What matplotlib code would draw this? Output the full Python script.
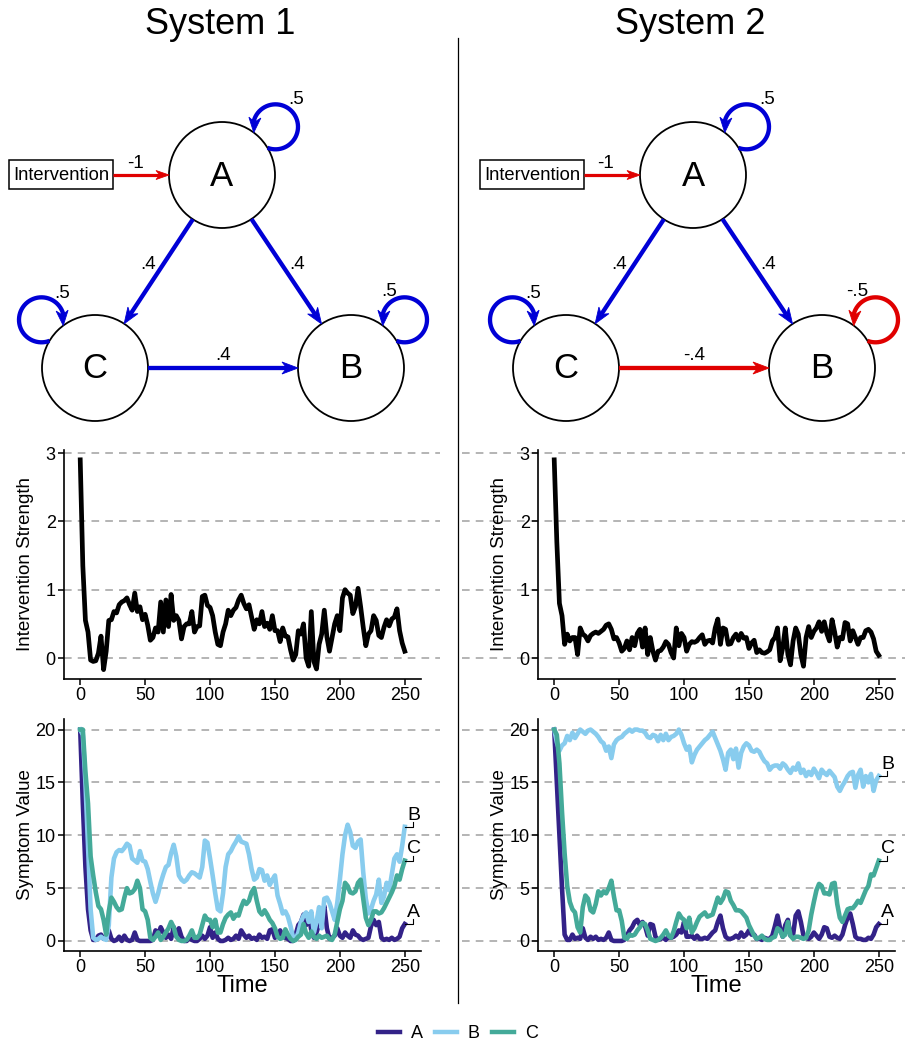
import numpy as np
import matplotlib
matplotlib.use("Agg")
import matplotlib.pyplot as plt
from matplotlib.patches import Circle, Rectangle, Polygon
from matplotlib.lines import Line2D
from matplotlib.transforms import blended_transform_factory

plt.rcParams['font.family'] = ['Liberation Sans', 'DejaVu Sans']

# ---------------- data (every 2nd time step) ----------------
time = np.arange(0, 251, 2)

# System 1
intervention_1 = [
    2.9, 1.35, 0.55, 0.38, -0.03, -0.05, -0.04, 0.07, 0.32, -0.17,
    0.1, 0.55, 0.56, 0.68, 0.66, 0.78, 0.82, 0.84, 0.88, 0.78,
    0.70, 0.95, 0.68, 0.75, 0.56, 0.64, 0.48, 0.26, 0.30, 0.44,
    0.38, 0.82, 0.38, 0.85, 0.46, 0.93, 0.55, 0.62, 0.55, 0.28,
    0.46, 0.50, 0.50, 0.68, 0.38, 0.46, 0.47, 0.90, 0.92, 0.77,
    0.74, 0.62, 0.38, 0.20, 0.18, 0.38, 0.50, 0.70, 0.62, 0.70,
    0.74, 0.85, 0.92, 0.80, 0.72, 0.78, 0.60, 0.42, 0.56, 0.50,
    0.68, 0.46, 0.51, 0.42, 0.62, 0.40, 0.40, 0.24, 0.44, 0.32,
    0.31, 0.12, -0.03, 0.05, 0.40, 0.35, 0.50, 0.00, -0.12, 0.68,
    -0.05, -0.16, 0.20, 0.35, 0.70, 0.31, 0.10, 0.30, 0.50, 0.62,
    0.40, 0.88, 1.0, 0.95, 0.92, 0.65, 0.75, 1.02, 0.75, 0.45,
    0.18, 0.35, 0.40, 0.62, 0.55, 0.33, 0.30, 0.45, 0.56, 0.47,
    0.57, 0.60, 0.72, 0.40, 0.22, 0.10]

sym_a_1 = [
    20, 13, 7, 3, 1, 0.1, 0.1, 0.5, 0.6, 0.2,
    0.3, 1.0, 0.2, 0, 0.1, 0.4, 0, 0.5, 0.1, 0,
    0.1, 0.8, 0.1, 0, 0, 0, 0, 0, 0.1, 1.0,
    0.6, 1.3, 0.8, 0.3, 0.6, 0.2, 1.3, 0.5, 1.2, 0.4,
    0, 0, 0.3, 0.1, 0, 0, 0.2, 0.5, 0.2, 0.5,
    1.3, 0.3, 0.8, 0.2, 0, 0, 0.1, 0.3, 0.1, 0.2,
    0.5, 0.2, 1.0, 0.6, 0.3, 0.5, 0.2, 0.3, 0.1, 0.6,
    0.3, 0.4, 0.2, 1.0, 1.1, 0.3, 0.5, 1.0, 0.5, 0.3,
    0.2, 0, 0, 0.6, 1.5, 1.8, 2.5, 1.5, 2.5, 1.0,
    0.3, 0.8, 1.6, 2.6, 3.3, 1.2, 0.2, 0.3, 0.5, 1.2,
    0.5, 0.3, 0.8, 0.5, 0.3, 1.0, 0.6, 0.5, 0.2, 0.1,
    0.2, 0.3, 1.4, 2.0, 1.5, 1.8, 0.3, 0.1, 0.2, 0.1,
    0.3, 0.1, 0.2, 0.4, 1.2, 1.6]

sym_b_1 = [
    20, 19.5, 15, 9, 3, 0.3, 0.1, 0.2, 0.4, 0.2,
    0.1, 1.5, 6, 7.8, 8.4, 8.6, 8.5, 8.8, 9.2, 9.0,
    7.8, 7.6, 7.4, 8.5, 7.6, 7.5, 6.8, 5.6, 4.5, 3.7,
    4.5, 5.5, 6.3, 7.0, 7.2, 8.3, 9.1, 8.0, 6.2, 5.8,
    5.6, 5.8, 6.2, 6.5, 6.4, 6.2, 6.0, 7.0, 9.5, 9.3,
    7.8, 6.2, 4.5, 3.0, 2.8, 4.5, 7.0, 8.2, 8.5, 9.0,
    9.4, 9.9, 9.4, 9.3, 9.2, 8.2, 6.8, 5.8, 6.0, 6.8,
    6.7, 5.7, 6.2, 5.3, 5.8, 6.2, 4.3, 3.5, 2.6, 2.8,
    2.3, 1.4, 0.3, 0.2, 0.8, 1.8, 2.4, 2.7, 1.8, 2.8,
    0.8, 1.8, 3.2, 1.2, 4.0, 4.1, 3.6, 2.8, 2.0, 3.6,
    5.8, 8.2, 10.0, 11.0, 10.3, 9.0, 8.8, 9.4, 9.6, 6.5,
    4.0, 2.6, 3.0, 3.8, 4.4, 5.8, 3.6, 4.2, 5.5, 4.8,
    6.3, 7.8, 8.2, 7.5, 9.0, 10.8]

sym_c_1 = [
    20, 20, 16, 13, 8, 6.2, 4.6, 3.3, 3.0, 2.0,
    0.6, 2.8, 4.1, 3.7, 3.2, 2.9, 3.0, 4.1, 5.0, 4.5,
    4.6, 4.9, 5.7, 5.0, 3.0, 2.8, 2.0, 0.3, 0.1, 0.4,
    0.8, 0.1, 0.4, 0.8, 1.2, 1.8, 1.3, 0.4, 0.1, 0,
    0, 0.1, 0.5, 1.0, 0.3, 0.3, 0.6, 1.5, 2.4, 2.0,
    2.0, 1.3, 2.0, 0.8, 0.8, 1.6, 2.2, 2.5, 2.7, 2.1,
    2.5, 2.4, 3.2, 3.8, 3.5, 3.8, 4.6, 5.0, 3.8, 2.8,
    2.5, 2.9, 2.5, 2.0, 1.7, 1.2, 0.4, 0.2, 0.3, 1.1,
    0.6, 0.2, 0, 0.1, 0.4, 0.6, 1.6, 0.7, 0.3, 0.9,
    0.4, 0.2, 0.5, 0.3, 0.4, 0.5, 0.2, 0.1, 0.6, 1.8,
    3.0, 3.8, 5.5, 5.2, 4.6, 4.5, 4.7, 5.5, 5.8, 4.0,
    2.2, 1.5, 2.0, 2.8, 2.8, 2.6, 2.7, 3.1, 3.6, 4.1,
    4.6, 5.2, 6.2, 5.8, 6.8, 7.6]

# System 2
intervention_2 = [
    2.9, 1.7, 0.8, 0.62, 0.2, 0.35, 0.25, 0.3, 0.3, 0.05,
    0.44, 0.35, 0.32, 0.25, 0.33, 0.36, 0.38, 0.36, 0.39, 0.42,
    0.48, 0.50, 0.42, 0.28, 0.30, 0.22, 0.10, 0.14, 0.25, 0.12,
    0.30, 0.18, 0.36, 0.42, 0.16, 0.44, 0.05, 0.30, 0.10, -0.03,
    0.10, 0.11, 0.16, 0.24, 0.20, 0.08, 0.0, 0.44, 0.18, 0.36,
    0.30, 0.10, 0.20, 0.24, 0.23, 0.25, 0.30, 0.34, 0.20, 0.25,
    0.26, 0.22, 0.44, 0.57, 0.20, 0.44, 0.42, 0.20, 0.21, 0.30,
    0.35, 0.26, 0.36, 0.29, 0.30, 0.14, 0.22, 0.26, 0.08, 0.12,
    0.08, 0.07, 0.09, 0.12, 0.25, 0.30, 0.44, -0.04, 0.15, 0.44,
    0.05, -0.10, 0.25, 0.44, 0.35, 0.05, -0.12, 0.30, 0.46, 0.30,
    0.39, 0.44, 0.53, 0.39, 0.53, 0.36, 0.25, 0.56, 0.38, 0.16,
    0.30, 0.28, 0.52, 0.50, 0.25, 0.40, 0.30, 0.20, 0.30, 0.30,
    0.40, 0.42, 0.38, 0.28, 0.10, 0.04]

sym_a_2 = [
    20, 15, 10, 5, 0.6, 0.1, 0.1, 0.6, 0.2, 0.3,
    0.2, 1.2, 0.3, 0.1, 0.4, 0.2, 0.4, 0.1, 0.2, 0.1,
    0.3, 0.8, 0.1, 0, 0, 0, 0, 0.1, 0.5, 1.0,
    1.3, 1.8, 2.0, 1.5, 1.8, 1.4, 0.5, 1.6, 1.5, 0.4,
    0.1, 0.2, 0.3, 0.1, 0.4, 0.3, 0.4, 0.6, 1.0, 0.8,
    1.8, 0.4, 0.4, 0.5, 0.2, 0.5, 0.2, 0.2, 0.3, 0.2,
    0.5, 0.8, 1.0, 1.8, 2.4, 1.2, 0.4, 0.2, 0.2, 0.3,
    0.5, 0.3, 0.8, 0.4, 0.6, 1.0, 0.6, 0.6, 0.2, 0.2,
    0.1, 0.3, 0.2, 0.2, 0.5, 1.4, 2.4, 1.2, 0.4, 1.5,
    2.0, 0.5, 0.6, 2.4, 2.8, 1.8, 0.5, 0.3, 0.2, 0.4,
    0.8, 0.5, 0.2, 0.6, 1.3, 1.2, 0.4, 0.3, 0.5, 0.3,
    0.2, 0.6, 1.5, 2.2, 2.6, 1.6, 0.4, 0.2, 0.2, 0.1,
    0.1, 0.3, 0.2, 0.6, 1.3, 1.6]

sym_b_2 = [
    20, 18.8, 18.0, 18.5, 18.7, 19.4, 19.0, 19.7, 19.2, 19.6,
    20.0, 19.8, 19.6, 19.9, 20.0, 19.8, 19.6, 19.3, 18.9, 18.7,
    18.0, 18.4, 17.3, 18.6, 19.0, 19.2, 19.3, 19.6, 19.8, 20.0,
    19.8, 20.0, 20.0, 19.9, 19.9, 19.7, 19.3, 19.2, 19.5, 19.4,
    18.9, 19.5, 19.0, 19.6, 19.0, 19.3, 19.4, 19.6, 20.0, 19.5,
    18.7, 18.1, 18.4, 16.9, 17.6, 18.1, 18.4, 18.7, 19.0, 19.2,
    19.5, 19.8, 19.2, 18.6, 18.0, 17.2, 16.2, 17.8, 18.1, 17.2,
    18.2, 16.4, 17.8, 18.4, 18.7, 18.5, 18.0, 17.9, 18.1, 17.9,
    17.4, 17.0, 16.8, 16.2, 16.5, 16.6, 16.6, 16.3, 16.8, 16.6,
    16.2, 15.9, 16.4, 16.2, 16.8, 15.9, 16.2, 15.6, 16.0, 15.7,
    16.3, 15.9, 15.4, 16.2, 15.9, 15.7, 16.1, 15.8, 15.5, 14.6,
    14.2, 14.7, 15.1, 15.6, 15.9, 16.0, 14.5, 15.7, 16.2, 14.6,
    15.6, 15.0, 15.8, 14.2, 15.2, 15.6]

sym_c_2 = [
    20, 19.5, 16.8, 12.2, 8.3, 5.2, 3.7, 3.0, 2.7, 1.3,
    0.8, 3.2, 4.3, 4.0, 2.9, 2.7, 3.5, 4.7, 4.3, 4.7,
    4.5, 5.0, 5.7, 4.2, 2.9, 2.9, 1.9, 0.3, 0.2, 0.6,
    0.5, 0.6, 1.0, 1.3, 1.7, 1.6, 1.0, 0.2, 0.1, 0,
    0.1, 0.3, 0.6, 1.0, 0.5, 0.3, 0.9, 1.8, 2.6, 2.2,
    2.0, 1.2, 2.2, 0.8, 1.2, 1.8, 2.3, 2.5, 2.7, 2.3,
    2.4, 2.5, 3.3, 4.1, 3.6, 4.0, 4.7, 4.6, 3.8, 3.4,
    2.9, 2.9, 2.8, 2.5, 2.2, 1.5, 1.0, 0.5, 0.2, 0.3,
    0.5, 0.2, 0.1, 0.1, 0.3, 0.4, 1.2, 1.0, 0.4, 0.6,
    1.8, 0.5, 0.2, 0.4, 0.4, 0.3, 0.2, 0.3, 1.0, 2.5,
    3.7, 4.8, 5.4, 5.2, 4.5, 4.5, 4.4, 5.4, 5.5, 3.5,
    2.2, 1.8, 2.4, 3.0, 3.1, 3.1, 3.4, 3.8, 3.6, 4.2,
    4.8, 5.2, 6.3, 6.2, 6.9, 7.6]

symptom_names = ["A", "B", "C"]
symptom_colors = ["#332288", "#88CCEE", "#44AA99"]

# network weights: edges (source, target, weight) and self loops
edges_1 = [("A", "C", 0.4), ("A", "B", 0.4), ("C", "B", 0.4)]
loops_1 = {"A": 0.5, "B": 0.5, "C": 0.5}
edges_2 = [("A", "C", 0.4), ("A", "B", 0.4), ("C", "B", -0.4)]
loops_2 = {"A": 0.5, "B": -0.5, "C": 0.5}
intervention_weight = -1

# ---------------- layout (pixels) ----------------
W, H = 915, 1050
NODE_R = 53
NODE_OFF = {"A": (0, 0), "C": (-127, 193), "B": (129, 193)}
LOOP_ANGLE = {"A": 42, "B": 42, "C": 138}
LOOP_TURN = {"A": 1, "B": 1, "C": -1}
LOOP_LABEL = {"A": (82, -75), "B": (46, -77), "C": (-25, -75)}
LOOP_DIST, LOOP_R = 72, 22.5
POS_COL, NEG_COL = "#0000D6", "#E00000"

fig = plt.figure(figsize=(W / 100, H / 100), dpi=100)
bg = fig.add_axes([0, 0, 1, 1])
bg.set_xlim(0, W)
bg.set_ylim(H, 0)
bg.axis("off")


def fmt_weight(w):
    return f"{w:g}".replace("0.", ".")


def draw_head(ax, tip, u, color, length, width):
    n = np.array([-u[1], u[0]])
    back = tip - u * length
    pts = [tip, back + n * width / 2, tip - u * length * 0.7, back - n * width / 2]
    ax.add_patch(Polygon(pts, closed=True, facecolor=color, edgecolor=color,
                         lw=0.6, zorder=3))


def straight_arrow(ax, p0, p1, color, lw, length, width):
    p0 = np.asarray(p0, float)
    p1 = np.asarray(p1, float)
    u = (p1 - p0) / np.hypot(*(p1 - p0))
    stop = p1 - u * length * 0.7
    ax.plot([p0[0], stop[0]], [p0[1], stop[1]], color=color, lw=lw,
            solid_capstyle="butt", zorder=2)
    draw_head(ax, p1, u, color, length, width)
    return u


def self_loop(ax, center, angle, turn, color, length=15, width=12):
    back = angle + 180
    alpha = np.degrees(np.arccos((LOOP_DIST ** 2 + LOOP_R ** 2 - NODE_R ** 2)
                                 / (2 * LOOP_DIST * LOOP_R)))
    lc = center + LOOP_DIST * np.array([np.cos(np.radians(angle)),
                                        -np.sin(np.radians(angle))])
    if turn > 0:
        phi0, phi1 = back + alpha, back - alpha + 360
    else:
        phi0, phi1 = back - alpha, back + alpha - 360
    trim = np.degrees(length * 0.7 / LOOP_R)
    phi = np.radians(np.linspace(phi0, phi1 - turn * trim, 200))
    ax.plot(lc[0] + LOOP_R * np.cos(phi), lc[1] - LOOP_R * np.sin(phi),
            color=color, lw=3.1, solid_capstyle="butt", zorder=2)
    pe = np.radians(phi1)
    pb = np.radians(phi1 - turn * np.degrees(length / LOOP_R))
    end = lc + LOOP_R * np.array([np.cos(pe), -np.sin(pe)])
    start = lc + LOOP_R * np.array([np.cos(pb), -np.sin(pb)])
    u = (end - start) / np.hypot(*(end - start))
    draw_head(ax, end, u, color, length, width)


def draw_network(ax, a_center, edges, loops):
    a_center = np.array(a_center, float)
    pos = {k: a_center + np.array(v, float) for k, v in NODE_OFF.items()}
    for name, p in pos.items():
        ax.add_patch(Circle(p, NODE_R, facecolor="white", edgecolor="black",
                            lw=1.3, zorder=1))
        ax.text(p[0], p[1] + 1, name, fontsize=25, ha="center", va="center", zorder=4)
    for src, dst, w in edges:
        color = POS_COL if w > 0 else NEG_COL
        d = pos[dst] - pos[src]
        u = d / np.hypot(*d)
        p0 = pos[src] + u * NODE_R
        p1 = pos[dst] - u * NODE_R
        straight_arrow(ax, p0, p1, color, 3.1, 16, 12)
        perp = np.array([u[1], -u[0]])
        if perp[1] > 0 or (perp[1] == 0 and perp[0] < 0):
            perp = -perp
        mid = (p0 + p1) / 2 + perp * 13
        ax.text(mid[0], mid[1], fmt_weight(w), fontsize=13.5, ha="center", va="center")
    for name, w in loops.items():
        color = POS_COL if w > 0 else NEG_COL
        self_loop(ax, pos[name], LOOP_ANGLE[name], LOOP_TURN[name], color)
        dx, dy = LOOP_LABEL[name]
        ax.text(pos[name][0] + dx, pos[name][1] + dy, fmt_weight(w), fontsize=13.5,
                ha="right", va="center")
    # intervention box
    a = pos["A"]
    ax.add_patch(Rectangle((a[0] - 213, a[1] - 15), 104, 29, facecolor="white",
                           edgecolor="black", lw=1.1, zorder=1))
    ax.text(a[0] - 161, a[1], "Intervention", fontsize=13.2, ha="center", va="center")
    color = POS_COL if intervention_weight > 0 else NEG_COL
    p0 = a + np.array([-109, 0])
    p1 = a + np.array([-NODE_R, 0])
    straight_arrow(ax, p0, p1, color, 2.3, 13, 9)
    ax.text((p0[0] + p1[0]) / 2 - 6, a[1] - 12, fmt_weight(intervention_weight),
            fontsize=13.5, ha="center", va="center")


draw_network(bg, (222, 175), edges_1, loops_1)
draw_network(bg, (693, 175), edges_2, loops_2)

bg.text(220, 24, "System 1", fontsize=26, ha="center", va="center")
bg.text(690, 24, "System 2", fontsize=26, ha="center", va="center")
bg.plot([458, 458], [38, 1003], color="black", lw=0.9)


# ---------------- time series panels ----------------
def fig_rect(left, top, right, bottom):
    return [left / W, 1 - bottom / H, (right - left) / W, (bottom - top) / H]


def style_axes(ax, ylim, yticks, grid_x, ylabel):
    ax.set_xlim(-12.5, 262.5)
    ax.set_ylim(*ylim)
    ax.set_xticks([0, 50, 100, 150, 200, 250])
    ax.set_yticks(yticks)
    for s in ("top", "right"):
        ax.spines[s].set_visible(False)
    for s in ("left", "bottom"):
        ax.spines[s].set_linewidth(1.2)
    ax.tick_params(direction="out", length=4, width=1.1, labelsize=13, pad=2,
                   colors="black")
    ax.patch.set_alpha(0)
    trans = blended_transform_factory(fig.transFigure, ax.transData)
    for v in yticks:
        ax.add_line(Line2D([grid_x[0] / W, grid_x[1] / W], [v, v], transform=trans,
                           color="#A0A0A0", lw=1.1, dashes=(5, 4), clip_on=False,
                           zorder=0))
    ax.set_ylabel(ylabel, fontsize=13.5)
    ax.yaxis.set_label_coords(-0.085, 0.5)


columns = [
    (64, 421, (64, 440), intervention_1, [sym_a_1, sym_b_1, sym_c_1]),
    (538, 895, (462, 905), intervention_2, [sym_a_2, sym_b_2, sym_c_2]),
]

for left, right, grid_x, interv, symptoms in columns:
    ax_i = fig.add_axes(fig_rect(left, 450, right, 679))
    style_axes(ax_i, (-0.307, 3.044), [0, 1, 2, 3], grid_x, "Intervention Strength")
    ax_i.plot(time, interv, color="black", lw=3.4, solid_joinstyle="round")

    ax_s = fig.add_axes(fig_rect(left, 719, right, 951))
    style_axes(ax_s, (-0.95, 21.0), [0, 5, 10, 15, 20], grid_x, "Symptom Value")
    for name, vals, col in zip(symptom_names, symptoms, symptom_colors):
        ax_s.plot(time, vals, color=col, lw=3.3, solid_joinstyle="round")
        v = vals[-1]
        ax_s.plot([time[-1], time[-1] + 6, time[-1] + 6], [v, v, v + 0.45],
                  color="black", lw=0.8, clip_on=False)
        ax_s.text(time[-1] + 7, v + 0.3, name, fontsize=14, ha="center", va="bottom")
    ax_s.set_xlabel("Time", fontsize=17)
    ax_s.xaxis.set_label_coords(0.5, -0.105)

handles = [Line2D([], [], color=c, lw=3.2) for c in symptom_colors]
fig.legend(handles, symptom_names, loc="center", bbox_to_anchor=(458 / W, 1 - 1034 / H),
           ncol=3, frameon=False, fontsize=13, handlelength=1.2, handletextpad=0.6,
           columnspacing=0.7)

fig.savefig("out.png", dpi=100)
